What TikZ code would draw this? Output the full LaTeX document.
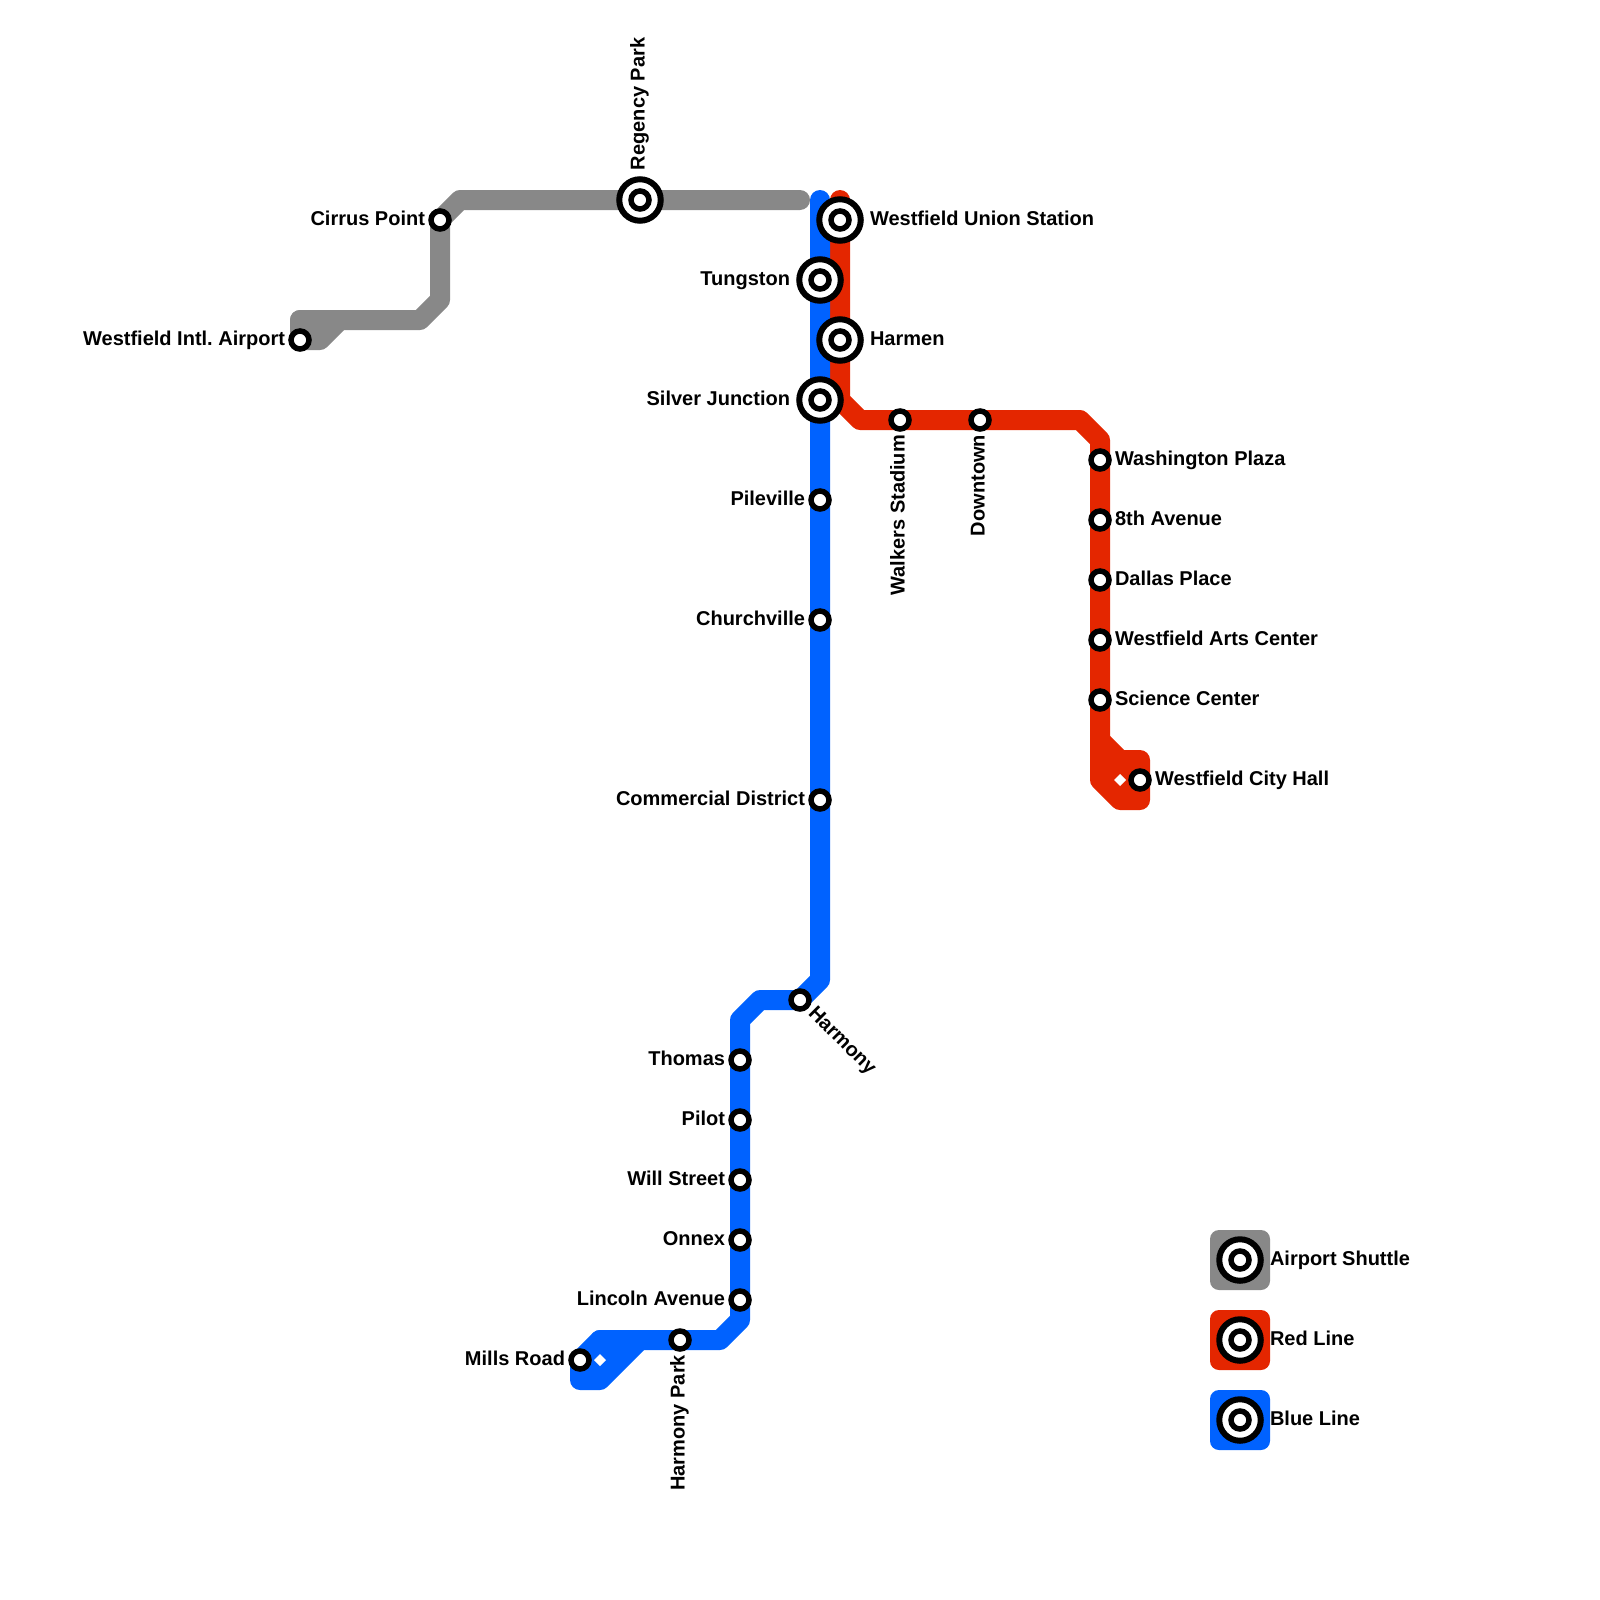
\documentclass[tikz,border=0pt]{standalone}
\usepackage{fontspec}
\setmainfont{Liberation Sans}
\frenchspacing
\usetikzlibrary{backgrounds}
\definecolor{greyline}{HTML}{888888}
\definecolor{redline}{HTML}{E42600}
\definecolor{blueline}{HTML}{0062FF}
\tikzset{
  halt/.style={circle,draw=black,fill=white,line width=5.5pt,minimum size=18pt,inner sep=0pt,outer sep=0pt},
  hub/.style={circle,draw=black,fill=white,line width=6pt,minimum size=41.5pt,inner sep=0pt,outer sep=0pt,
    path picture={\draw[black,line width=5.5pt] (path picture bounding box.center) circle (9pt);}},
  txt/.style={font=\bfseries\fontsize{20pt}{20pt}\selectfont,text=black,inner sep=0pt,outer sep=0pt},
  tl/.style={txt,anchor=base east},
  tr/.style={txt,anchor=base west},
  metro/.style={line width=20pt,line cap=round,line join=round},
  swatch/.style={rounded corners=9pt,minimum size=60pt,inner sep=0pt,outer sep=0pt}
}
\begin{document}
\begin{tikzpicture}[x=1pt,y=-1pt]
\useasboundingbox (0,0) rectangle (1600,1600);

% airport shuttle
\node[halt] (airport) at (300,340) {};
\node[halt] (cirrus) at (440,220) {};
\node[hub] (regency) at (640,200) {};
% red line
\node[hub] (union) at (840,220) {};
\node[hub] (harmen) at (840,340) {};
\node[halt] (walkers) at (900,420) {};
\node[halt] (downtown) at (980,420) {};
\node[halt] (washington) at (1100,460) {};
\node[halt] (eighth) at (1100,520) {};
\node[halt] (dallas) at (1100,580) {};
\node[halt] (arts) at (1100,640) {};
\node[halt] (science) at (1100,700) {};
\node[halt] (cityhall) at (1140,780) {};
% blue line
\node[hub] (tungston) at (820,280) {};
\node[hub] (silver) at (820,400) {};
\node[halt] (pileville) at (820,500) {};
\node[halt] (churchville) at (820,620) {};
\node[halt] (commercial) at (820,800) {};
\node[halt] (harmony) at (800,1000) {};
\node[halt] (thomas) at (740,1060) {};
\node[halt] (pilot) at (740,1120) {};
\node[halt] (will) at (740,1180) {};
\node[halt] (onnex) at (740,1240) {};
\node[halt] (lincoln) at (740,1300) {};
\node[halt] (harmonypark) at (680,1340) {};
\node[halt] (mills) at (580,1360) {};

\begin{scope}[on background layer]
  % grey
  \coordinate (g1) at (800,200);
  \coordinate (g2) at (460,200);
  \coordinate (g3) at (440,300);
  \coordinate (g4) at (420,320);
  \coordinate (g5) at (300,320);
  \coordinate (g6) at (320,340);
  \coordinate (g7) at (340,320);
  \draw[metro,greyline] (g1) -- (regency.center) -- (g2) -- (cirrus.center) -- (g3) -- (g4) -- (g5);
  \draw[metro,greyline,fill=greyline] (g5) -- (airport.center) -- (g6) -- (g7) -- cycle;
  % red
  \coordinate (r1) at (840,200);
  \coordinate (r2) at (840,400);
  \coordinate (r3) at (860,420);
  \coordinate (r4) at (1080,420);
  \coordinate (r5) at (1100,440);
  \coordinate (r6) at (1100,740);
  \coordinate (r7) at (1120,760);
  \coordinate (r8) at (1140,760);
  \coordinate (r9) at (1140,800);
  \coordinate (r10) at (1120,800);
  \coordinate (r11) at (1100,780);
  \draw[metro,redline] (r1) -- (union.center) -- (harmen.center) -- (r2) -- (r3) -- (walkers.center) -- (downtown.center) -- (r4) -- (r5) -- (washington.center) -- (science.center) -- (r6);
  \draw[metro,redline,fill=redline] (r6) -- (r7) -- (r8) -- (r9) -- (r10) -- (r11) -- cycle;
  % blue
  \coordinate (b1) at (820,200);
  \coordinate (b2) at (820,980);
  \coordinate (b3) at (760,1000);
  \coordinate (b4) at (740,1020);
  \coordinate (b5) at (740,1320);
  \coordinate (b6) at (720,1340);
  \coordinate (b7) at (600,1340);
  \coordinate (b8) at (580,1380);
  \coordinate (b9) at (600,1380);
  \coordinate (b10) at (640,1340);
  \draw[metro,blueline] (b1) -- (tungston.center) -- (silver.center) -- (b2) -- (harmony.center) -- (b3) -- (b4) -- (thomas.center) -- (lincoln.center) -- (b5) -- (b6) -- (harmonypark.center) -- (b7);
  \draw[metro,blueline,fill=blueline] (b7) -- (mills.center) -- (b8) -- (b9) -- (b10) -- cycle;
\end{scope}

% transfer marks
\coordinate (d1) at (600,1360);
\coordinate (d2) at (1120,780);
\fill[white] (d1) ++(-6,0) -- ++(6,-6) -- ++(6,6) -- ++(-6,6) -- cycle;
\fill[white] (d2) ++(-6,0) -- ++(6,-6) -- ++(6,6) -- ++(-6,6) -- cycle;

% labels
\node[tl] (lairport) at (285,345) {Westfield Intl. Airport};
\node[tl] (lcirrus) at (425,225) {Cirrus Point};
\node[txt,anchor=base west,rotate=90] (lregency) at (644.5,170) {Regency Park};
\node[tr] (lunion) at (870,225) {Westfield Union Station};
\node[tr] (lharmen) at (870,345) {Harmen};
\node[txt,anchor=base east,rotate=90] (lwalkers) at (904.5,435) {Walkers Stadium};
\node[txt,anchor=base east,rotate=90] (ldowntown) at (984.5,435) {Downtown};
\node[tr] (lwashington) at (1115,465) {Washington Plaza};
\node[tr] (leighth) at (1115,525) {8th Avenue};
\node[tr] (ldallas) at (1115,585) {Dallas Place};
\node[tr] (larts) at (1115,645) {Westfield Arts Center};
\node[tr] (lscience) at (1115,705) {Science Center};
\node[tr] (lcityhall) at (1155,785) {Westfield City Hall};
\node[tl] (ltungston) at (790,285) {Tungston};
\node[tl] (lsilver) at (790,405) {Silver Junction};
\node[tl] (lpileville) at (805,505) {Pileville};
\node[tl] (lchurchville) at (805,625) {Churchville};
\node[tl] (lcommercial) at (805,805) {Commercial District};
\node[txt,anchor=base west,rotate=-45] (lharmony) at (807.5,1014) {Harmony};
\node[tl] (lthomas) at (725,1065) {Thomas};
\node[tl] (lpilot) at (725,1125) {Pilot};
\node[tl] (lwill) at (725,1185) {Will Street};
\node[tl] (lonnex) at (725,1245) {Onnex};
\node[tl] (llincoln) at (725,1305) {Lincoln Avenue};
\node[txt,anchor=base east,rotate=90] (lharmonypark) at (684.5,1355) {Harmony Park};
\node[tl] (lmills) at (565,1365) {Mills Road};

% legend
\node[swatch,fill=greyline] (sw1) at (1240,1260) {};
\node[swatch,fill=redline] (sw2) at (1240,1340) {};
\node[swatch,fill=blueline] (sw3) at (1240,1420) {};
\node[hub] (k1) at (sw1.center) {};
\node[hub] (k2) at (sw2.center) {};
\node[hub] (k3) at (sw3.center) {};
\node[tr] (t1) at (1270,1265) {Airport Shuttle};
\node[tr] (t2) at (1270,1345) {Red Line};
\node[tr] (t3) at (1270,1425) {Blue Line};
\end{tikzpicture}
\end{document}
